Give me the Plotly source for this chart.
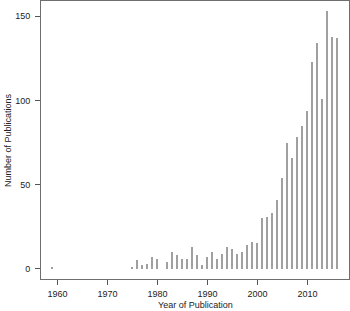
import plotly.graph_objects as go

years = [1959, 1975, 1976, 1977, 1978, 1979, 1980, 1982, 1983, 1984, 1985, 1986,
         1987, 1988, 1989, 1990, 1991, 1992, 1993, 1994, 1995, 1996, 1997, 1998,
         1999, 2000, 2001, 2002, 2003, 2004, 2005, 2006, 2007, 2008, 2009, 2010,
         2011, 2012, 2013, 2014, 2015, 2016]
publications = [1, 1, 5, 2, 3, 7, 6, 4, 10, 8, 6, 6,
                 13, 8, 2, 7, 10, 6, 9, 13, 12, 9, 10, 14,
                 16, 15, 30, 31, 33, 41, 54, 75, 66, 78, 85, 94,
                 123, 134, 101, 153, 138, 137]
x_ticks = [1960, 1970, 1980, 1990, 2000, 2010]
y_ticks = [0, 50, 100, 150]

xmin, xmax = min(years), max(years)
ymin, ymax = 0, max(publications)
xpad = (xmax - xmin) * 0.04
ypad = (ymax - ymin) * 0.04

FONT = "Liberation Sans, Arial, Helvetica, sans-serif"
TXT = "#222222"

fig = go.Figure()
fig.add_trace(go.Bar(
    x=years, y=publications, width=0.28,
    marker=dict(color="#a0a0a0", line=dict(width=0)),
    showlegend=False, hoverinfo="x+y",
))

axis_common = dict(
    showgrid=False, zeroline=False,
    showline=True, linecolor="#6e6e6e", linewidth=1, mirror=True,
    ticks="outside", ticklen=5, tickwidth=1, tickcolor="#555555",
    tickfont=dict(family=FONT, size=9, color=TXT),
)
fig.update_xaxes(range=[xmin - xpad, xmax + xpad], tickvals=x_ticks,
                 ticktext=[str(v) for v in x_ticks], ticklabelstandoff=1,
                 **axis_common)
fig.update_yaxes(range=[ymin - ypad, ymax + ypad], tickvals=y_ticks,
                 ticktext=[str(v) for v in y_ticks], ticklabelstandoff=3,
                 **axis_common)

fig.add_annotation(text="Year of Publication", xref="paper", yref="paper",
                   x=0.5, y=-0.093, xanchor="center", yanchor="middle",
                   showarrow=False, font=dict(family=FONT, size=9, color=TXT))
fig.add_annotation(text="Number of Publications", xref="paper", yref="paper",
                   x=-0.107, y=0.5, xanchor="center", yanchor="middle", textangle=-90,
                   showarrow=False, font=dict(family=FONT, size=9, color=TXT))

fig.update_layout(
    width=350, height=311,
    margin=dict(l=41, r=1, t=1, b=32, pad=0),
    plot_bgcolor="white", paper_bgcolor="white",
    bargap=0,
)
fig.write_html("out.html",
               config={"displayModeBar": False},
               post_script="document.body.style.margin='0';document.body.style.overflow='hidden';")
